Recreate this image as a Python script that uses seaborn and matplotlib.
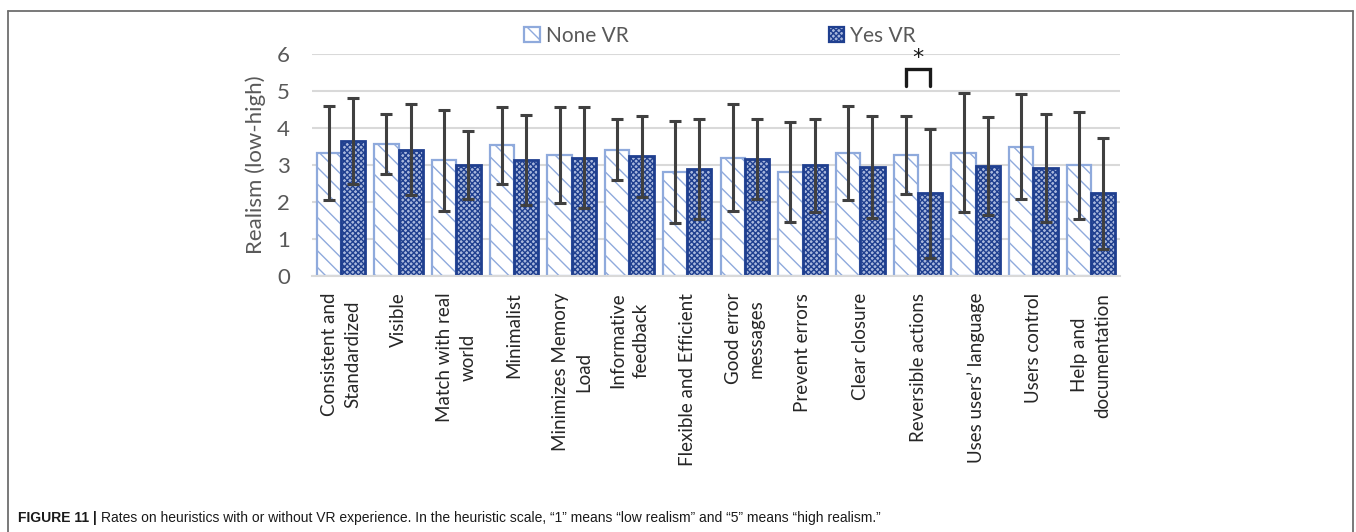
import numpy as np
import pandas as pd
import seaborn as sns
import matplotlib.pyplot as plt
from matplotlib.patches import Patch
from matplotlib.lines import Line2D

categories = ["Consistent and\nStandardized", "Visible", "Match with real\nworld", "Minimalist",
              "Minimizes Memory\nLoad", "Informative\nfeedback", "Flexible and Efficient",
              "Good error\nmessages", "Prevent errors", "Clear closure", "Reversible actions",
              "Uses users\u2019 language", "Users control", "Help and\ndocumentation"]
series_names = ["None VR", "Yes VR"]
none_mean = [3.33, 3.58, 3.13, 3.54, 3.27, 3.41, 2.81, 3.20, 2.81, 3.33, 3.27, 3.33, 3.49, 2.99]
none_sd = [1.27, 0.81, 1.37, 1.04, 1.30, 0.82, 1.39, 1.45, 1.34, 1.27, 1.05, 1.61, 1.42, 1.44]
yes_mean = [3.65, 3.41, 2.99, 3.13, 3.20, 3.23, 2.88, 3.15, 2.99, 2.95, 2.23, 2.97, 2.92, 2.23]
yes_sd = [1.17, 1.23, 0.92, 1.21, 1.36, 1.10, 1.35, 1.08, 1.25, 1.37, 1.73, 1.32, 1.47, 1.50]
y_ticks = [0, 1, 2, 3, 4, 5, 6]
sig_index = 10
caption_bold = "FIGURE 11 |"
caption_text = ("Rates on heuristics with or without VR experience. In the heuristic scale, "
                "\u201c1\u201d means \u201clow realism\u201d and \u201c5\u201d means \u201chigh realism.\u201d")

df = pd.DataFrame({
    "category": categories * 2,
    "group": [series_names[0]] * len(categories) + [series_names[1]] * len(categories),
    "mean": none_mean + yes_mean,
    "sd": none_sd + yes_sd,
})

sns.set_theme(style="white")
plt.rcParams["font.family"] = ["Lato", "DejaVu Sans"]
plt.rcParams["hatch.linewidth"] = 1.0

light_edge = "#8FAADC"
dark_edge = "#1F3F8F"
yes_face = "#A9B8DD"
text_gray = "#595959"

fig = plt.figure(figsize=(13.56, 5.32), dpi=100)
ax = fig.add_axes([312 / 1356, 1 - 276 / 532, (1120 - 312) / 1356, (276 - 54) / 532])

sns.barplot(data=df, x="category", y="mean", hue="group", hue_order=series_names,
            order=categories, errorbar=None, width=0.84, gap=0.0, ax=ax,
            palette=["white", "white"], legend=False)

n = len(categories)
bar_patches = [p for p in ax.patches if p.get_width() > 0][: 2 * n]
for i, p in enumerate(bar_patches):
    if i < n:
        p.set_facecolor("white")
        p.set_edgecolor(light_edge)
        p.set_hatch("\\\\")
        p.set_linewidth(1.6)
    else:
        p.set_facecolor(yes_face)
        p.set_edgecolor(dark_edge)
        p.set_hatch("xxxxxx")
        p.set_linewidth(2.0)

# error bars from the bar centres and the data
for i, p in enumerate(bar_patches):
    cx = p.get_x() + p.get_width() / 2
    row = df.iloc[i]
    ax.errorbar(cx, row["mean"], yerr=row["sd"], fmt="none", ecolor="#404040",
                elinewidth=2.2, capsize=4.4, capthick=2.2, zorder=5)

ax.set_ylim(0, 6)
ax.set_xlim(-0.5, n - 0.5)
ax.set_yticks(y_ticks)
ax.set_yticklabels([str(t) for t in y_ticks], fontsize=16, color=text_gray)
ax.yaxis.grid(True, color="#D9D9D9", linewidth=1.5)
ax.set_axisbelow(True)
for s in ["top", "right", "left"]:
    ax.spines[s].set_visible(False)
ax.spines["bottom"].set_color("#D9D9D9")
ax.spines["bottom"].set_linewidth(1.5)
ax.tick_params(axis="y", length=0, pad=16)
ax.set_xticks(range(n))
ax.set_xticklabels(categories, rotation=90, fontsize=13.5, color="#262626",
                   ha="center", va="top", multialignment="center", linespacing=1.45)
ax.tick_params(axis="x", which="major", length=0, pad=12)
ax.set_xticks(np.arange(-0.5, n, 1.0), minor=True)
ax.tick_params(axis="x", which="minor", length=4, width=1.2, color="#D9D9D9", direction="out")
ax.set_xlabel("")
ax.set_ylabel("Realism (low-high)", fontsize=16, color=text_gray, labelpad=8)

# significance bracket
pn = bar_patches[sig_index]
py = bar_patches[n + sig_index]
x1 = pn.get_x() + pn.get_width() / 2
x2 = py.get_x() + py.get_width() / 2
ax.plot([x1, x1, x2, x2], [5.14, 5.59, 5.59, 5.14], color="#1a1a1a", linewidth=2.4,
        solid_joinstyle="miter", clip_on=False)
ax.text((x1 + x2) / 2, 5.62, "*", ha="center", va="bottom", fontsize=16, color="#1a1a1a",
        family=["DejaVu Sans"])

# legend
handles = [Patch(facecolor="white", edgecolor=light_edge, hatch="\\\\", linewidth=1.6),
           Patch(facecolor=yes_face, edgecolor=dark_edge, hatch="xxxxxx", linewidth=1.6)]
fig.legend(handles, series_names, loc="center", bbox_to_anchor=(720 / 1356, 1 - 36 / 532),
           ncol=2, frameon=False, fontsize=15, handlelength=0.75, handleheight=0.75,
           handletextpad=0.3, columnspacing=9.6, labelcolor=text_gray)

# frame (top, left, right)
frame_kw = dict(color="#6E6E6E", linewidth=1.3, transform=fig.transFigure)
fig.add_artist(Line2D([8 / 1356, 1353 / 1356], [1 - 11 / 532, 1 - 11 / 532], **frame_kw))
fig.add_artist(Line2D([8 / 1356, 8 / 1356], [0, 1 - 11 / 532], **frame_kw))
fig.add_artist(Line2D([1353 / 1356, 1353 / 1356], [0, 1 - 11 / 532], **frame_kw))

# caption
cap_family = ["Liberation Sans", "DejaVu Sans"]
t1 = fig.text(18 / 1356, 1 - 518 / 532, caption_bold, fontsize=10, fontweight="bold",
              family=cap_family, va="center", ha="left", color="#1a1a1a")
ax.annotate(caption_text, xy=(1, 0.5), xycoords=t1, xytext=(3, 0), textcoords="offset points",
            fontsize=10, family=cap_family, va="center", ha="left", color="#1a1a1a",
            annotation_clip=False)

fig.savefig("out.png", dpi=100, facecolor="white")
